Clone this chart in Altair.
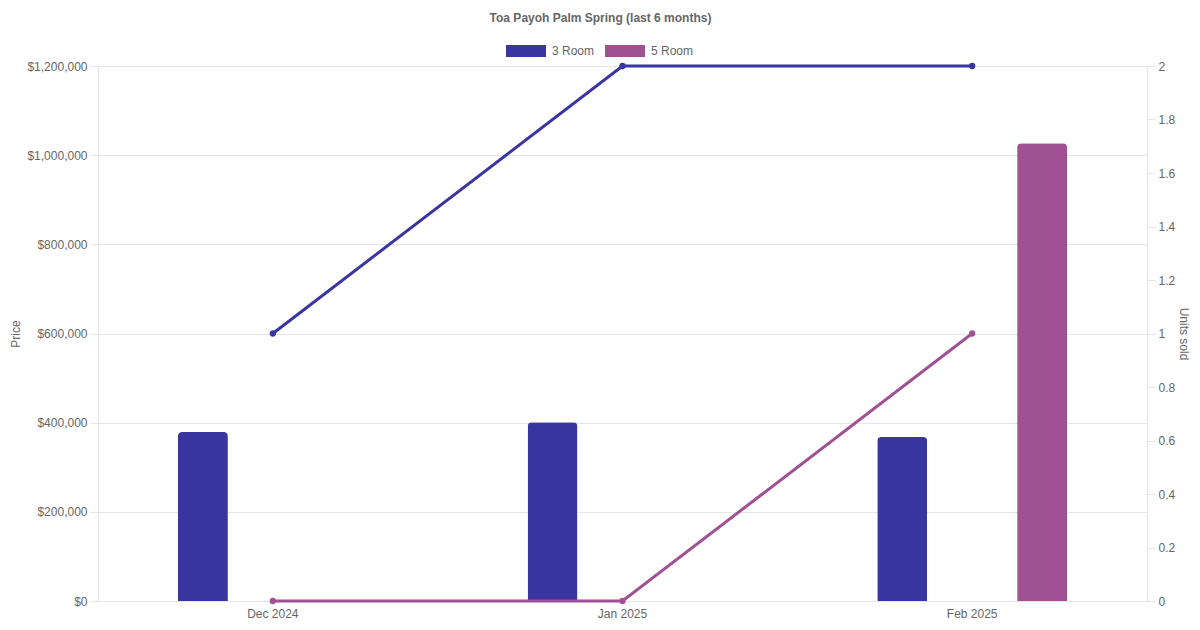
import altair as alt
import pandas as pd

months = ["Dec 2024", "Jan 2025", "Feb 2025"]
room_types = ["3 Room", "5 Room"]
price_3room = [379000, 401000, 368000]
price_5room = [None, None, 1027000]
units_3room = [1, 2, 2]
units_5room = [0, 0, 1]
colors = ["#3935a1", "#a05193"]
price_ticks = [0, 200000, 400000, 600000, 800000, 1000000, 1200000]
units_ticks = [0, 0.2, 0.4, 0.6, 0.8, 1, 1.2, 1.4, 1.6, 1.8, 2]
title_text = "Toa Payoh Palm Spring (last 6 months)"

rows = []
for i, m in enumerate(months):
    rows.append(dict(month=m, type=room_types[0], price=price_3room[i], units=units_3room[i]))
    rows.append(dict(month=m, type=room_types[1], price=price_5room[i], units=units_5room[i]))
df = pd.DataFrame(rows)

FONT = "Liberation Sans"
GRID = "#e5e5e5"
TXT = "#666666"

x_enc = alt.X(
    "month:N",
    sort=months,
    scale=alt.Scale(paddingInner=0, paddingOuter=0),
    axis=alt.Axis(title=None, labelAngle=0, ticks=False, labelPadding=7, grid=False,
                  domainColor=GRID),
)

bars = alt.Chart(df).transform_filter("isValid(datum.price)").mark_bar(
    cornerRadiusTopLeft=4, cornerRadiusTopRight=4
).encode(
    x=x_enc,
    xOffset=alt.XOffset("type:N", sort=room_types,
                        scale=alt.Scale(paddingInner=0.642857, paddingOuter=0.571429)),
    y=alt.Y("price:Q", scale=alt.Scale(domain=[0, 1200000], nice=False),
            axis=alt.Axis(title="Price", values=price_ticks, format="$,.0f", orient="left",
                          tickSize=8, labelPadding=3, titlePadding=4, grid=True)),
    color=alt.Color("type:N", scale=alt.Scale(domain=room_types, range=colors),
                    legend=alt.Legend(title=None, orient="none", legendX=408, legendY=-35,
                                      direction="horizontal",
                                      symbolType="M-1,-0.3L1,-0.3L1,0.3L-1,0.3Z",
                                      symbolSize=1600, symbolStrokeWidth=0,
                                      symbolOpacity=1,
                                      labelFontSize=12, labelColor=TXT, labelFont=FONT,
                                      labelOffset=6, columnPadding=10)),
)

y_units = alt.Y("units:Q", scale=alt.Scale(domain=[0, 2], nice=False),
                axis=alt.Axis(title="Units sold", orient="right", values=units_ticks,
                              format="~g", grid=False, tickSize=8, labelPadding=3,
                              titlePadding=2))

lines = alt.Chart(df).mark_line(strokeWidth=3).encode(
    x=alt.X("month:N", sort=months),
    y=y_units,
    stroke=alt.Stroke("type:N", scale=alt.Scale(domain=room_types, range=colors), legend=None),
)

points = alt.Chart(df).mark_circle(size=40, opacity=1).encode(
    x=alt.X("month:N", sort=months),
    y=alt.Y("units:Q"),
    fill=alt.Fill("type:N", scale=alt.Scale(domain=room_types, range=colors), legend=None),
)

chart = alt.layer(bars, alt.layer(lines, points)).resolve_scale(
    y="independent"
).properties(
    width=1049,
    height=535,
    autosize=alt.AutoSizeParams(type="none"),
    padding={"left": 90, "top": 58, "right": 45, "bottom": 21},
    title=alt.Title(title_text, fontSize=12, fontWeight="bold", color=TXT, font=FONT,
                    anchor="middle", dx=-22, offset=6),
).configure_view(stroke=None).configure_axis(
    labelFont=FONT, titleFont=FONT, labelFontSize=12, titleFontSize=12,
    titleFontWeight="normal", titleColor=TXT, labelColor=TXT,
    gridColor=GRID, domainColor=GRID, tickColor=GRID,
)

chart.save("out.html", embed_options={"renderer": "svg", "actions": False})
